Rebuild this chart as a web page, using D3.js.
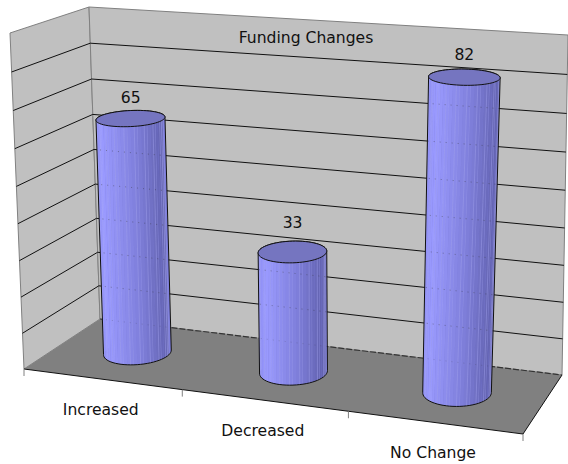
<!DOCTYPE html>
<html>
<head>
<meta charset="utf-8">
<script src="https://cdn.jsdelivr.net/npm/d3@7"></script>
<style>
  html, body { margin: 0; padding: 0; background: #fff; }
  svg { display: block; }
  text { font-family: "DejaVu Sans", sans-serif; font-size: 15.6px; fill: #111; }
</style>
</head>
<body>
<script>
const chartTitle = "Funding Changes";
const categories = ["Increased", "Decreased", "No Change"];
const values = [65, 33, 82];
const valueTicks = d3.range(0, 100, 10);

const width = 568, height = 464;

// Screen corners of the 3D box: floor and ceiling, in (across, depth) order.
const floorQuad = [[24, 369], [523, 434], [562, 375], [100, 319]];
const ceilingQuad = [[10, 33], [548, 68], [568, 35], [89, 7]];
const verticalFore = 1.05;

// Homography from the unit square to a quad (corners at 00, 10, 11, 01).
function unitSquareMap(q) {
  const [[x0, y0], [x1, y1], [x2, y2], [x3, y3]] = q;
  const dx1 = x1 - x2, dx2 = x3 - x2, sx = x0 - x1 + x2 - x3;
  const dy1 = y1 - y2, dy2 = y3 - y2, sy = y0 - y1 + y2 - y3;
  const det = dx1 * dy2 - dx2 * dy1;
  const g = (sx * dy2 - dx2 * sy) / det;
  const h = (dx1 * sy - sx * dy1) / det;
  const a = x1 - x0 + g * x1, b = x3 - x0 + h * x3;
  const d = y1 - y0 + g * y1, e = y3 - y0 + h * y3;
  return (u, v) => {
    const w = g * u + h * v + 1;
    return [(a * u + b * v + x0) / w, (d * u + e * v + y0) / w];
  };
}
const onFloor = unitSquareMap(floorQuad);
const onCeiling = unitSquareMap(ceilingQuad);

// Projects a box coordinate: across, depth and height, each in 0..1.
function project(u, v, w) {
  const a = onFloor(u, v), b = onCeiling(u, v);
  const t = w / (w + verticalFore * (1 - w));
  return [a[0] + (b[0] - a[0]) * t, a[1] + (b[1] - a[1]) * t];
}

const xBand = d3.scaleBand().domain(categories).range([0, 1]);
const yValue = d3.scaleLinear().domain([0, 90]).range([0, 1]);
const line = d3.line();

const svg = d3.select("body").append("svg")
  .attr("width", width).attr("height", height)
  .attr("viewBox", [0, 0, width, height]);

const poly = (pts) => line(pts) + "Z";

// Walls and floor
svg.append("path").attr("fill", "#c0c0c0").attr("stroke", "#808080").attr("stroke-width", 1)
  .attr("d", poly([project(0,0,0), project(0,1,0), project(0,1,1), project(0,0,1)]));
svg.append("path").attr("fill", "#c0c0c0").attr("stroke", "#808080").attr("stroke-width", 1)
  .attr("d", poly([project(0,1,0), project(1,1,0), project(1,1,1), project(0,1,1)]));

// Gridlines along both walls
const grid = svg.append("g").attr("fill", "none").attr("stroke", "#111").attr("stroke-width", 1);
valueTicks.filter(t => t > 0 && t < 90).forEach(t => {
  const w = yValue(t);
  grid.append("path").attr("d", line([project(0,0,w), project(0,1,w), project(1,1,w)]));
});

svg.append("path").attr("fill", "#808080")
  .attr("d", poly([project(0,0,0), project(1,0,0), project(1,1,0), project(0,1,0)]));

// Front edge and category ticks
svg.append("path").attr("fill", "none").attr("stroke", "#111")
  .attr("d", line([project(0,0,0), project(1,0,0), project(1,1,0)]));
svg.append("path").attr("fill", "none").attr("stroke", "#333").attr("stroke-width", 1.2).attr("stroke-dasharray", "6 2")
  .attr("d", line([project(0,1,0), project(1,1,0)]));
const tickEdges = [0, 1, 2, 3].map(i => i / categories.length);
svg.append("g").selectAll("line").data(tickEdges).join("line")
  .attr("x1", d => project(d,0,0)[0]).attr("y1", d => project(d,0,0)[1])
  .attr("x2", d => project(d,0,0)[0]).attr("y2", d => project(d,0,0)[1] + 7)
  .attr("stroke", "#808080");

// Cylinder columns
const nFacets = 64, rU = 0.065, rV = 0.23;
const labelLift = { "Increased": 15, "Decreased": 24, "No Change": 17 };
const light = d3.scaleLinear()
  .domain([0, 0.12, 0.55, 1])
  .range(["#8c8cf0", "#9a9aff", "#8080dc", "#5c5ca6"]);

categories.forEach((c, i) => {
  const u0 = xBand(c) + xBand.bandwidth() / 2 - 0.003, v0 = 0.5;
  const topW = yValue(values[i]);
  const ring = (w) => d3.range(nFacets).map(k => {
    const a = 2 * Math.PI * k / nFacets;
    return project(u0 + rU * Math.cos(a), v0 + rV * Math.sin(a), w);
  });
  const base = ring(0), top = ring(topW);
  const g = svg.append("g");
  const hull = d3.polygonHull(base.concat(top));
  const clipId = "clip" + i;
  svg.append("clipPath").attr("id", clipId).append("path").attr("d", poly(hull));
  const minX = d3.min(hull, p => p[0]), maxX = d3.max(hull, p => p[0]);

  // Front half of the ring, faceted from left to right
  const facets = d3.range(nFacets).filter(k => Math.sin(2 * Math.PI * (k + 0.5) / nFacets) < 0.05);
  const body = g.append("g").attr("clip-path", `url(#${clipId})`);
  body.append("path").attr("d", poly(hull)).attr("fill", "#7f7fdc");
  facets.forEach((k) => {
    const k2 = (k + 1) % nFacets;
    const q = [base[k], base[k2], top[k2], top[k]];
    const mx = d3.mean(q, p => p[0]);
    const f = (mx - minX) / (maxX - minX);
    body.append("path").attr("d", poly(q)).attr("fill", light(f))
      .attr("stroke", k % 3 === 0 ? "#b4b4f4" : "none").attr("stroke-width", 0.6).attr("stroke-opacity", 0.5);
  });
  // Wall gridlines show faintly through the column as dots
  valueTicks.filter(t => t < values[i]).forEach(t => {
    const w = yValue(t);
    body.append("path").attr("fill", "none").attr("stroke", "#333").attr("stroke-opacity", t === 0 ? 0.2 : 0.4)
      .attr("stroke-dasharray", "1 5").attr("d", line([project(0,1,w), project(1,1,w)]));
  });
  g.append("path").attr("d", poly(hull)).attr("fill", "none").attr("stroke", "#111").attr("stroke-width", 1);
  g.append("path").attr("d", poly(top)).attr("fill", "#7575c0").attr("stroke", "#111").attr("stroke-width", 1);

  const c0 = project(u0, v0, topW);
  svg.append("text").attr("text-anchor", "middle").attr("x", c0[0]).attr("y", c0[1] - labelLift[c]).text(values[i]);
  const f0 = project(u0, 0, 0);
  svg.append("text").attr("text-anchor", "middle").attr("x", f0[0]).attr("y", f0[1] + 36).text(c);
});

svg.append("text").attr("text-anchor", "middle").attr("x", 306).attr("y", 43).text(chartTitle);
</script>
</body>
</html>
